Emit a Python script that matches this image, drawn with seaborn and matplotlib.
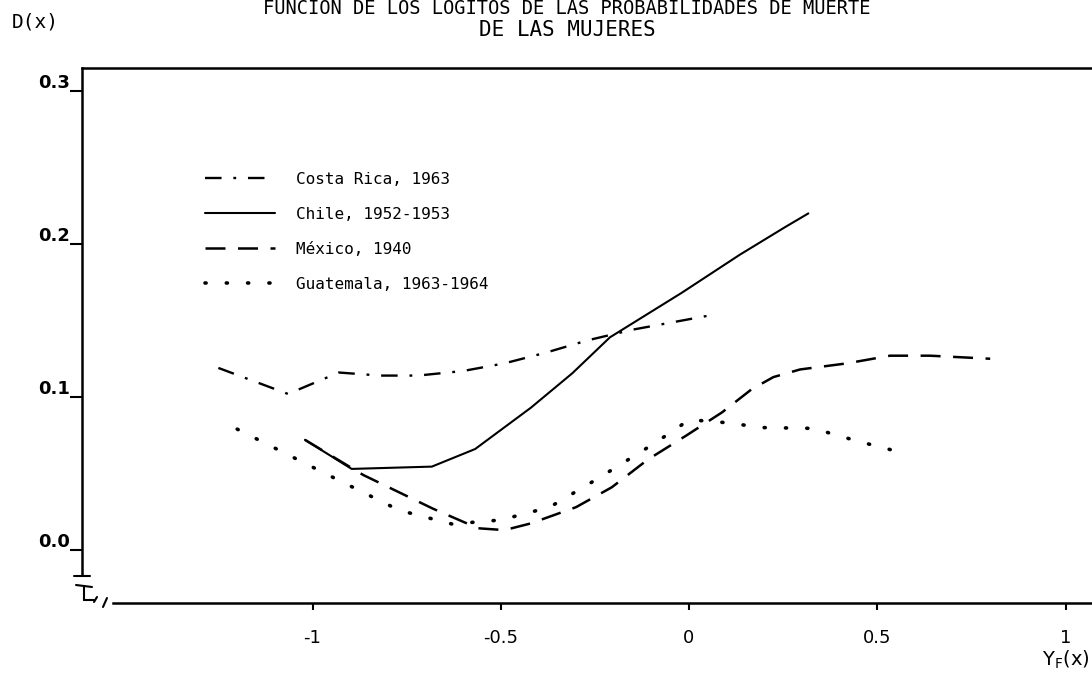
import matplotlib
matplotlib.use("Agg")
import numpy as np
import pandas as pd
import matplotlib.pyplot as plt
import seaborn as sns
from matplotlib.transforms import ScaledTranslation

# ---------------- data ----------------
title_lines = ["FUNCION DE LOS LOGITOS DE LAS PROBABILIDADES DE MUERTE",
               "DE LAS MUJERES"]
y_axis_title = "D(x)"
x_axis_title = r"$\mathregular{Y_F(x)}$"

series_labels = ["Costa Rica, 1963", "Chile, 1952-1953",
                 "México, 1940", "Guatemala, 1963-1964"]

costa_rica_x = [-1.25, -1.065, -0.93, -0.82, -0.72, -0.60, -0.49, -0.38, -0.27, -0.15, -0.04, 0.07]
costa_rica_y = [0.119, 0.102, 0.116, 0.114, 0.114, 0.117, 0.122, 0.129, 0.137, 0.144, 0.149, 0.154]

chile_x = [-1.02, -0.896, -0.683, -0.568, -0.42, -0.31, -0.21, -0.02, 0.135, 0.255, 0.317]
chile_y = [0.072, 0.053, 0.0545, 0.066, 0.093, 0.1155, 0.139, 0.168, 0.193, 0.211, 0.220]

mexico_x = [-1.02, -0.865, -0.68, -0.56, -0.49, -0.42, -0.30, -0.205, -0.11, -0.006,
            0.088, 0.166, 0.224, 0.295, 0.42, 0.534, 0.64, 0.80]
mexico_y = [0.072, 0.049, 0.027, 0.0142, 0.013, 0.0174, 0.028, 0.041, 0.059, 0.075,
            0.090, 0.105, 0.113, 0.118, 0.122, 0.127, 0.127, 0.125]

guatemala_x = [-1.2, -0.95, -0.77, -0.63, -0.50, -0.37, -0.24, -0.09, 0.0, 0.07,
               0.20, 0.33, 0.45, 0.56]
guatemala_y = [0.079, 0.048, 0.026, 0.017, 0.0196, 0.028, 0.047, 0.070, 0.085, 0.084,
               0.080, 0.0795, 0.071, 0.064]

x_ticks = [-1, -0.5, 0, 0.5, 1]
x_tick_labels = ["-1", "-0.5", "0", "0.5", "1"]
y_ticks = [0.0, 0.1, 0.2, 0.3]
y_tick_labels = ["0.0", "0.1", "0.2", "0.3"]

# ---------------- styling ----------------
sns.set_style("ticks")
plt.rcParams["font.family"] = ["DejaVu Sans"]
plt.rcParams["text.color"] = "black"
plt.rcParams["xtick.color"] = "black"
plt.rcParams["ytick.color"] = "black"

W, H = 1092, 677
fig = plt.figure(figsize=(W / 100, H / 100), dpi=100)
fig.patch.set_facecolor("white")

# axes rectangle in pixels: x 82..1092, y 68..603
ax = fig.add_axes([82 / W, (H - 603) / H, 1010 / W, 535 / H])
ax.set_facecolor("white")

styles = [
    dict(linestyle=(0, (7, 5, 1.2, 5)), lw=1.7),
    dict(linestyle="-", lw=1.5),
    dict(linestyle=(0, (8, 5)), lw=1.8),
    dict(linestyle=(0, (0.3, 5.6)), lw=2.6, dash_capstyle="round"),
]
xs = [costa_rica_x, chile_x, mexico_x, guatemala_x]
ys = [costa_rica_y, chile_y, mexico_y, guatemala_y]

for lab, x, y, st in zip(series_labels, xs, ys, styles):
    df = pd.DataFrame({"x": x, "y": y})
    sns.lineplot(data=df, x="x", y="y", ax=ax, color="black", label=lab, **st)

ax.set_xlim((82 - 689) / 376.5, (1092 - 689) / 376.5)
ax.set_ylim((550 - 603) / 1530, (550 - 68) / 1530)

ax.set_xlabel("")
ax.set_ylabel("")

ax.set_xticks(x_ticks)
ax.set_xticklabels(x_tick_labels, fontsize=13)
ax.set_yticks(y_ticks)
ax.set_yticklabels(y_tick_labels, fontsize=13, fontweight="bold")
ax.tick_params(axis="x", direction="out", length=5, width=1.5, pad=14, colors="black")
ax.tick_params(axis="y", direction="out", length=8.5, width=1.5, pad=0, colors="black")
for t in ax.get_yticklabels():
    t.set_transform(t.get_transform() + ScaledTranslation(0, 7 / 72, fig.dpi_scale_trans))

for side in ["left", "bottom", "top"]:
    ax.spines[side].set_visible(True)
    ax.spines[side].set_color("black")
    ax.spines[side].set_linewidth(1.8)
ax.spines["right"].set_visible(False)
ax.spines["left"].set_bounds((550 - 575) / 1530, (550 - 68) / 1530)
ax.spines["bottom"].set_bounds((113 - 689) / 376.5, (1092 - 689) / 376.5)


def axp(px, py):
    return (px - 82) / 1010, (603 - py) / 535


# axis-break decoration near the origin
for (x0, y0), (x1, y1) in [((74, 576), (90, 576)), ((76, 585), (92, 587)),
                           ((84, 586), (84, 600)), ((84, 600), (94, 600)),
                           ((94, 602), (97, 597)), ((103, 607), (107, 598))]:
    a0, b0 = axp(x0, y0)
    a1, b1 = axp(x1, y1)
    ax.plot([a0, a1], [b0, b1], transform=ax.transAxes, color="black",
            lw=1.5, clip_on=False)

# legend
leg = ax.legend(loc="upper left", bbox_to_anchor=axp(205, 172), frameon=False,
                prop={"family": "DejaVu Sans Mono", "size": 11.5},
                handlelength=4.4, handletextpad=1.3, labelspacing=1.25,
                borderpad=0, borderaxespad=0)
for t in leg.get_texts():
    t.set_color("black")

# titles and axis titles
fig.text(567 / W, 1 - 9 / H, title_lines[0], ha="center", va="center",
         family="DejaVu Sans Mono", fontsize=13.5, color="black")
fig.text(567 / W, 1 - 30 / H, title_lines[1], ha="center", va="center",
         family="DejaVu Sans Mono", fontsize=15, color="black")
fig.text(35 / W, 1 - 22 / H, y_axis_title, ha="center", va="center",
         family="DejaVu Sans Mono", fontsize=14, color="black")
fig.text(1066 / W, 1 - 660 / H, x_axis_title, ha="center", va="center",
         fontsize=14, color="black")

fig.savefig("out.png", dpi=100, facecolor="white")
